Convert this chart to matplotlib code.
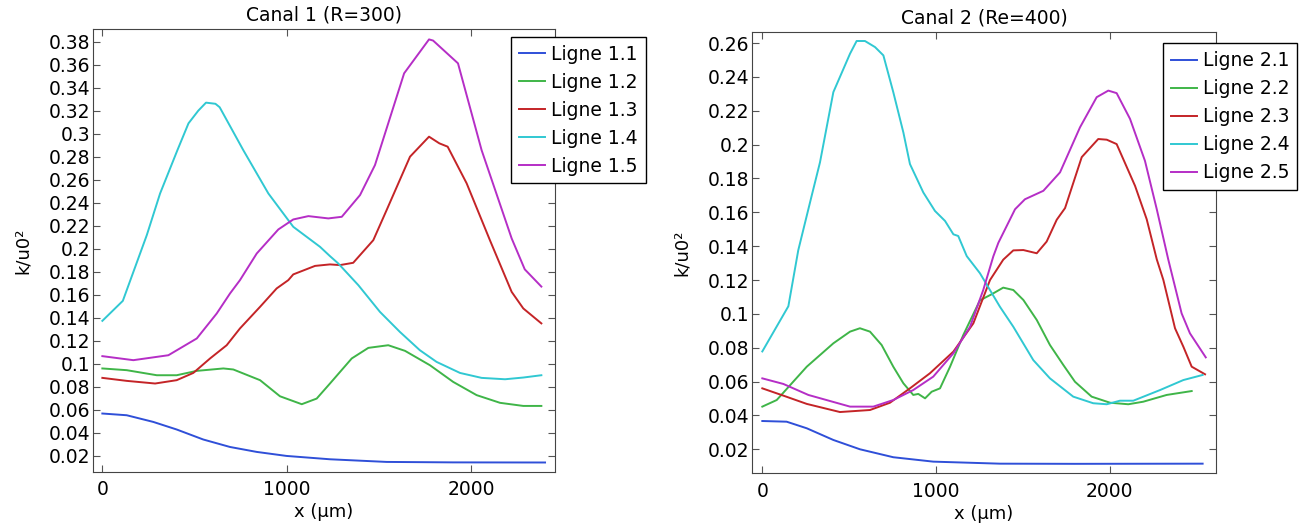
import matplotlib.pyplot as plt
from matplotlib.ticker import FuncFormatter, MultipleLocator

# Canal 1 (R=300)
x11 = [0, 132, 276, 403, 547, 692, 837, 999, 1234, 1541, 1900, 2400]
y11 = [0.0566, 0.0551, 0.0493, 0.0427, 0.034, 0.0275, 0.0232, 0.0197, 0.0168, 0.0145, 0.0141, 0.014]

x12 = [0, 132, 295, 403, 512, 656, 710, 855, 963, 1081, 1162, 1234, 1352, 1442, 1550, 1641,
       1776, 1902, 2029, 2156, 2282, 2380]
y12 = [0.0958, 0.0943, 0.0899, 0.0899, 0.0937, 0.0958, 0.0949, 0.0856, 0.0716, 0.0647, 0.0696,
       0.0827, 0.1045, 0.1137, 0.116, 0.1111, 0.0986, 0.0841, 0.0726, 0.0659, 0.0632, 0.0632]

x13 = [0, 132, 286, 403, 493, 584, 674, 746, 855, 945, 1008, 1035, 1153, 1234, 1288, 1360,
       1469, 1541, 1668, 1771, 1827, 1872, 1975, 2101, 2219, 2282, 2380]
y13 = [0.0876, 0.085, 0.0827, 0.0856, 0.0919, 0.1045, 0.116, 0.1306, 0.1494, 0.1654, 0.1726,
       0.1776, 0.185, 0.1863, 0.1857, 0.1877, 0.2074, 0.2335, 0.28, 0.2974, 0.2916, 0.2887,
       0.2568, 0.2074, 0.1624, 0.148, 0.135]

x14 = [0, 111, 241, 313, 407, 467, 520, 562, 613, 636, 764, 900, 1035, 1180, 1234, 1279, 1388,
       1505, 1613, 1721, 1812, 1939, 2056, 2183, 2282, 2380]
y14 = [0.1372, 0.1546, 0.2118, 0.248, 0.2857, 0.309, 0.32, 0.327, 0.326, 0.323, 0.2857, 0.248,
       0.219, 0.2016, 0.1935, 0.1871, 0.1682, 0.145, 0.1276, 0.1117, 0.1015, 0.0919, 0.0876,
       0.0864, 0.0879, 0.0899]

x15 = [0, 168, 358, 512, 620, 692, 746, 837, 954, 1035, 1117, 1225, 1298, 1397, 1478, 1636,
       1771, 1793, 1928, 2056, 2219, 2290, 2380]
y15 = [0.1065, 0.103, 0.1073, 0.1219, 0.1436, 0.161, 0.1726, 0.1958, 0.2167, 0.2254, 0.2283,
       0.2263, 0.2277, 0.2466, 0.2727, 0.3525, 0.382, 0.381, 0.3612, 0.2857, 0.2089, 0.182, 0.167]

# Canal 2 (Re=400)
x21 = [0, 140, 256, 409, 562, 754, 984, 1368, 1800, 2535]
y21 = [0.0367, 0.0363, 0.0324, 0.0255, 0.02, 0.0153, 0.0127, 0.0115, 0.0114, 0.0115]

x22 = [0, 83, 256, 409, 505, 562, 620, 687, 754, 812, 869, 898, 937, 975, 1023, 1081, 1157,
       1253, 1321, 1387, 1445, 1503, 1580, 1656, 1733, 1800, 1896, 2002, 2107, 2193, 2328, 2472]
y22 = [0.0452, 0.0491, 0.0688, 0.0826, 0.0895, 0.0915, 0.0895, 0.0816, 0.0688, 0.059, 0.0521,
       0.0527, 0.0501, 0.054, 0.056, 0.0688, 0.0875, 0.108, 0.1116, 0.1155, 0.1141, 0.1082,
       0.0964, 0.0816, 0.0698, 0.0599, 0.0511, 0.0475, 0.0466, 0.0481, 0.0521, 0.0544]

x23 = [0, 121, 256, 447, 620, 735, 850, 965, 1100, 1215, 1311, 1387, 1445, 1503, 1580, 1637,
       1695, 1743, 1839, 1934, 1983, 2040, 2146, 2213, 2271, 2309, 2376, 2424, 2472, 2549]
y23 = [0.056, 0.0517, 0.0468, 0.042, 0.0432, 0.0475, 0.056, 0.0649, 0.0777, 0.0944, 0.12, 0.132,
       0.1375, 0.1377, 0.1358, 0.1427, 0.1556, 0.1625, 0.1926, 0.2033, 0.2029, 0.2003, 0.1756,
       0.1559, 0.1322, 0.12, 0.0915, 0.0806, 0.0688, 0.0643]

x24 = [0, 150, 207, 284, 332, 409, 505, 543, 591, 649, 697, 754, 812, 850, 927, 994, 1052,
       1100, 1128, 1177, 1253, 1368, 1445, 1560, 1656, 1790, 1905, 1983, 2059, 2136, 2290,
       2424, 2535]
y24 = [0.0778, 0.1045, 0.1376, 0.1697, 0.1895, 0.231, 0.2537, 0.2612, 0.2612, 0.2576, 0.2527,
       0.231, 0.2072, 0.1885, 0.1717, 0.1608, 0.1549, 0.147, 0.146, 0.1341, 0.124, 0.1042,
       0.0924, 0.0727, 0.0619, 0.0511, 0.0472, 0.0466, 0.0487, 0.0487, 0.055, 0.0609, 0.0639]

x25 = [0, 121, 265, 505, 639, 754, 869, 984, 1100, 1196, 1272, 1330, 1359, 1455, 1512, 1618,
       1714, 1829, 1925, 1992, 2040, 2117, 2203, 2271, 2337, 2414, 2462, 2553]
y25 = [0.0619, 0.0586, 0.0521, 0.0452, 0.0452, 0.0491, 0.055, 0.0629, 0.0767, 0.0924, 0.1141,
       0.134, 0.142, 0.1618, 0.1677, 0.1727, 0.1836, 0.2102, 0.228, 0.2319, 0.2304, 0.2152,
       0.1904, 0.1618, 0.1322, 0.1003, 0.0885, 0.0743]

COULEURS = ["#2f4fd8", "#3fb548", "#c42427", "#30c8d2", "#b52ec6"]

plt.rcParams["font.family"] = "DejaVu Sans"
plt.rcParams["font.size"] = 13.5


def fmt(v, pos):
    return f"{v:.2f}".rstrip("0")


def tracer(ax, series, noms, titre, xlim, ylim, leg_pos):
    for (xs, ys), nom, c in zip(series, noms, COULEURS):
        ax.plot(xs, ys, color=c, lw=1.4, label=nom)
    ax.set_xlim(*xlim)
    ax.set_ylim(*ylim)
    ax.set_title(titre, fontsize=13.5, pad=6)
    ax.set_xlabel("x (µm)", fontsize=13, labelpad=3)
    ax.set_ylabel("k/u0²", fontsize=13, labelpad=12)
    ax.xaxis.set_major_locator(MultipleLocator(1000))
    ax.yaxis.set_major_locator(MultipleLocator(0.02))
    ax.yaxis.set_major_formatter(FuncFormatter(fmt))
    ax.tick_params(direction="in", top=True, right=True, length=5, color="#555555",
                   labelsize=13.5)
    ax.tick_params(axis="x", pad=6)
    ax.tick_params(axis="y", pad=2)
    for s in ax.spines.values():
        s.set_color("#444444")
    ax.legend(loc="upper left", bbox_to_anchor=leg_pos, bbox_transform=fig.transFigure,
              fancybox=False, edgecolor="black", framealpha=1, fontsize=13.5,
              handlelength=1.4, handletextpad=0.32, borderpad=0.42, labelspacing=0.48,
              borderaxespad=0)


fig = plt.figure(figsize=(13.01, 5.23), dpi=100)
ax1 = fig.add_axes([0.0713, 0.0981, 0.3553, 0.8459])
ax2 = fig.add_axes([0.5782, 0.095, 0.3562, 0.8444])

tracer(ax1, [(x11, y11), (x12, y12), (x13, y13), (x14, y14), (x15, y15)],
       ["Ligne 1.1", "Ligne 1.2", "Ligne 1.3", "Ligne 1.4", "Ligne 1.5"],
       "Canal 1 (R=300)", (-52, 2454), (0.006, 0.3908), (0.3928, 0.9298))
tracer(ax2, [(x21, y21), (x22, y22), (x23, y23), (x24, y24), (x25, y25)],
       ["Ligne 2.1", "Ligne 2.2", "Ligne 2.3", "Ligne 2.4", "Ligne 2.5"],
       "Canal 2 (Re=400)", (-58, 2610), (0.0058, 0.2667), (0.8937, 0.9172))

fig.savefig("out.png", dpi=100)
